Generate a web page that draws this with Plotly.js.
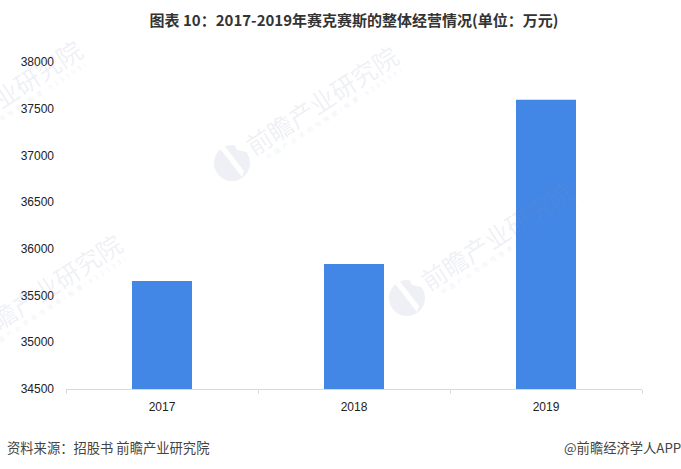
<!DOCTYPE html>
<html><head><meta charset="utf-8">
<script src="https://cdn.plot.ly/plotly-3.0.1.min.js"></script>
<style>html,body{margin:0;padding:0;background:#fff}#c{width:681px;height:469px}</style>
</head><body><div id="c"></div>
<script>
const years = ['2017','2018','2019'];
const values = [35656, 35838, 37596];
const yTicks = [34500,35000,35500,36000,36500,37000,37500,38000];
const titleText = '图表 10：2017-2019年赛克赛斯的整体经营情况(单位：万元)';
const sourceText = '资料来源：招股书 前瞻产业研究院';
const creditText = '@前瞻经济学人APP';
const wmName = '前瞻产业研究院';
const wmSub = Array.from('中国产业咨询领导者(股票:839599)').join('\u2002');
const W = 681, H = 469;
const FONT = '"Noto Sans CJK SC","Liberation Sans",sans-serif';
const wmCol = 'rgba(133,148,184,0.14)';
const marks = [[232,163],[407,298],[-44,351],[-84,157]];
const ann = [], shapes = [];
const fx = px => (px-66)/576, fy = py => (389-py)/327;
function pa(px,py,text,size,color,angle){
  ann.push({xref:'paper',yref:'paper',x:fx(px),y:fy(py),text:text,showarrow:false,
    textangle:angle,font:{family:FONT,size:size,color:color},xanchor:'center',yanchor:'middle'});
}
function poly(lx,ly,pts,fill){
  shapes.push({type:'path',xref:'paper',yref:'paper',layer:'above',line:{width:0},fillcolor:fill,
    path:'M'+pts.map(p=>fx(lx+p[0])+','+fy(ly+p[1])).join(' L')+' Z'});
}
marks.forEach(([lx,ly])=>{
  pa(lx+89,ly-63,wmName,25,wmCol,-33);
  pa(lx+101,ly-49,wmSub,6.5,wmCol,-33);
  if(lx>0){
    shapes.push({type:'circle',xref:'paper',yref:'paper',x0:fx(lx-18),x1:fx(lx+18),y0:fy(ly+18),y1:fy(ly-18),
      fillcolor:wmCol,line:{width:0},layer:'above'});
    poly(lx,ly,[[-14,-17],[-9,-19],[12,8],[10,14]],'#fff');
    poly(lx,ly,[[2,-20],[5,-20],[20,-14],[20,-10],[5,-13]],'#fff');
  }
});
ann.push({xref:'paper',yref:'paper',x:fx(5),y:fy(448),xanchor:'left',yanchor:'middle',showarrow:false,
  text:sourceText,font:{family:FONT,size:13.3,color:'#444'}});
ann.push({xref:'paper',yref:'paper',x:fx(683),y:fy(448),xanchor:'right',yanchor:'middle',showarrow:false,
  text:creditText,font:{family:FONT,size:13.3,color:'#444'}});
Plotly.newPlot('c',[{type:'bar',x:years,y:values,marker:{color:'#4286E6'},hoverinfo:'skip'}],{
  width:W,height:H,paper_bgcolor:'#fff',plot_bgcolor:'#fff',showlegend:false,
  margin:{l:66,r:39,t:62,b:80},bargap:0.6875,
  title:{text:'<b>'+titleText+'</b>',x:0.5,xref:'paper',xanchor:'center',y:1-21/H,yanchor:'middle',
    font:{family:FONT,size:15,color:'#333'}},
  xaxis:{type:'category',showgrid:false,zeroline:false,showline:true,linecolor:'#d9d9d9',linewidth:1,
    ticks:'outside',tickson:'boundaries',ticklen:4,tickcolor:'#d9d9d9',tickwidth:1,ticklabelstandoff:7,
    tickfont:{family:'"Liberation Sans",sans-serif',size:12,color:'#222'}},
  yaxis:{range:[34500,38000],tickvals:yTicks,ticktext:yTicks.map(String),showgrid:false,zeroline:false,showline:false,
    ticks:'',ticklen:0,ticklabelstandoff:11,tickfont:{family:'"Liberation Sans",sans-serif',size:12,color:'#222'}},
  annotations:ann,shapes:shapes
},{displayModeBar:false,staticPlot:true});
</script></body></html>
